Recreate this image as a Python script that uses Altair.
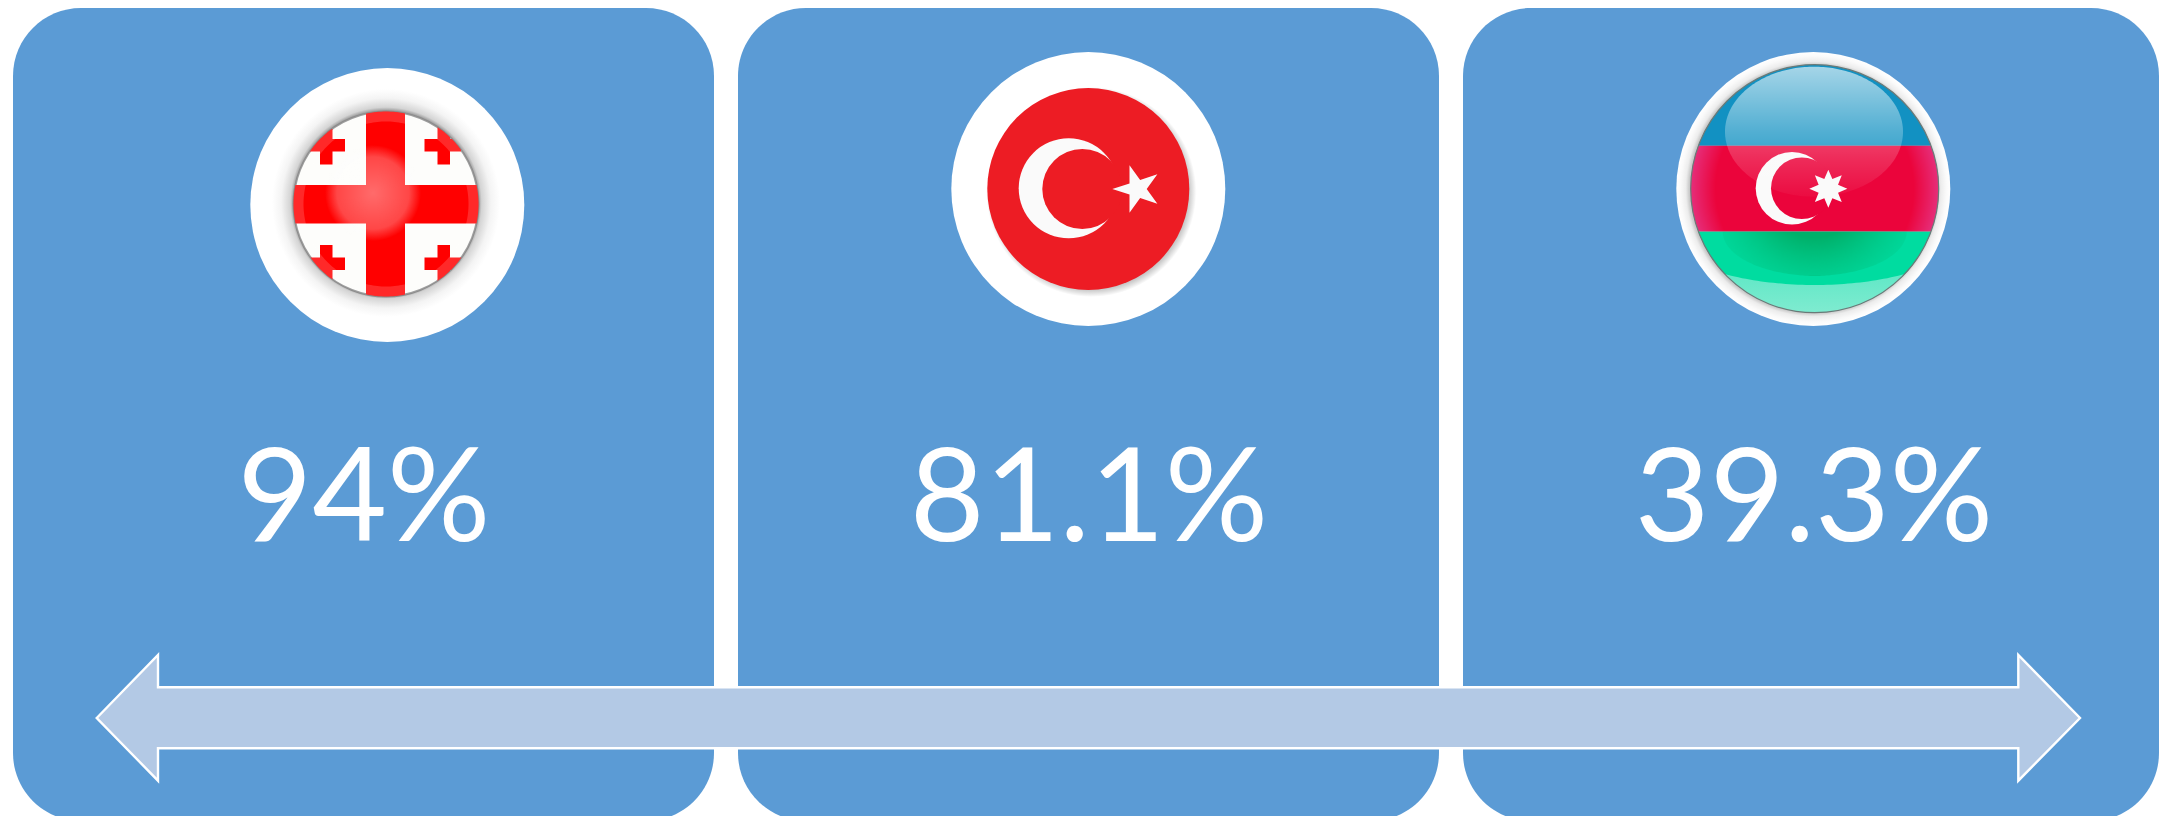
import math
import altair as alt
import pandas as pd

# ---- data ----
countries = ["Georgia", "Turkey", "Azerbaijan"]
values = [94, 81.1, 39.3]
labels = ["94%", "81.1%", "39.3%"]

H = 816
RIGHT = 2159  # last pixel column that fits inside the page margin
PANEL = "#5B9BD5"
X = alt.Scale(domain=[8, RIGHT], nice=False, zero=False)
Y = alt.Scale(domain=[H, 8], nice=False, zero=False)
U = 100.0  # px per path unit
USIZE = (2 * U) ** 2


def enc():
    return dict(x=alt.X("x:Q", scale=X, axis=None), y=alt.Y("y:Q", scale=Y, axis=None))


def sym(shape, cx, cy, fill, size=USIZE, **kw):
    return alt.Chart(pd.DataFrame({"x": [cx], "y": [cy]})).mark_point(
        shape=shape, size=size, filled=True, fill=fill, opacity=1, strokeWidth=kw.pop("strokeWidth", 0), **kw
    ).encode(**enc())


def disk(cx, cy, r, fill, **kw):
    return sym("circle", cx, cy, fill, size=(2 * r) ** 2, **kw)


def ring_pts(cx, cy, rx, ry=None, n=240, rev=False):
    ry = rx if ry is None else ry
    a = [2 * math.pi * i / n for i in range(n)]
    if rev:
        a = a[::-1]
    return [(cx + rx * math.cos(t), cy + ry * math.sin(t)) for t in a]


def clip(poly, keep):
    """Clip a polygon by half-plane: keep(p) returns signed value, >=0 inside."""
    out = []
    for i in range(len(poly)):
        a, b = poly[i], poly[(i + 1) % len(poly)]
        fa, fb = keep(a), keep(b)
        if fa >= 0:
            out.append(a)
        if fa * fb < 0:
            t = fa / (fa - fb)
            out.append((a[0] + t * (b[0] - a[0]), a[1] + t * (b[1] - a[1])))
    return out


def box_clip(poly, x0=None, x1=None, y0=None, y1=None):
    if x0 is not None:
        poly = clip(poly, lambda p: p[0] - x0)
    if x1 is not None:
        poly = clip(poly, lambda p: x1 - p[0])
    if y0 is not None:
        poly = clip(poly, lambda p: p[1] - y0)
    if y1 is not None:
        poly = clip(poly, lambda p: y1 - p[1])
    return poly


def convex_clip(poly, convex):
    """Clip poly to a convex polygon."""
    n = len(convex)
    for i in range(n):
        a, b = convex[i], convex[(i + 1) % n]
        poly = clip(poly, lambda p, a=a, b=b: (b[0] - a[0]) * (p[1] - a[1]) - (b[1] - a[1]) * (p[0] - a[0]))
    return poly


def path(polys, cx, cy):
    s = []
    for poly in polys:
        if not poly:
            continue
        s.append("M" + "L".join(f"{(x - cx) / U:.4f} {(y - cy) / U:.4f}" for x, y in poly) + "Z")
    return "".join(s)


def grad_r(stops, cx=0.5, cy=0.5, r=0.5):
    return {"gradient": "radial", "x1": cx, "y1": cy, "r1": 0, "x2": cx, "y2": cy, "r2": r,
            "stops": [{"offset": o, "color": c} for o, c in stops]}


def grad_v(stops):
    return {"gradient": "linear", "x1": 0, "y1": 0, "x2": 0, "y2": 1,
            "stops": [{"offset": o, "color": c} for o, c in stops]}


def star(cx, cy, R, r, n, start):
    pts = []
    for i in range(2 * n):
        rad = R if i % 2 == 0 else r
        t = start + math.pi * i / n
        pts.append((cx + rad * math.cos(t), cy + rad * math.sin(t)))
    return pts


layers = []

# ---- panels ----
panels = pd.DataFrame({
    "country": countries,
    "x": [13, 738, 1463],
    "x2": [714, 1439, RIGHT],
    "y": [8, 8, 8],
    "y2": [821, 821, 821],
})
layers.append(
    alt.Chart(panels).mark_rect(cornerRadius=68, color=PANEL).encode(
        x=alt.X("x:Q", scale=X, axis=None), x2="x2:Q",
        y=alt.Y("y:Q", scale=Y, axis=None), y2="y2:Q",
    )
)

# ---- Georgia ----
gx, gy, gr = 386.0, 204.0, 92.5
layers.append(disk(387.3, 205, 137, "#FFFFFF"))
layers.append(disk(gx, gy - 1, 114, grad_r([(0, "#8a8a8a"), (0.8, "#8a8a8a"), (0.84, "#d4d4d4"), (0.92, "#f4f4f4"), (1, "#ffffff")])))
layers.append(disk(gx, gy, gr, "#FDFDFB", stroke="#8c8c8c", strokeWidth=2))
circ = ring_pts(gx, gy, gr)
red = []
red.append(box_clip(circ, x0=366, x1=405))
red.append(box_clip(circ, y0=185, y1=223.5))
for vx0, vx1, hx0, hx1, vy0, vy1, hy0, hy1 in [
    (320, 332.5, 309, 345, 129, 164.5, 139, 151.5),
    (437.5, 450, 424.5, 461, 126.5, 164.5, 139, 151.5),
    (320, 332.5, 309, 345, 245, 280, 257.5, 270),
    (437.5, 450, 424.5, 461.5, 245, 282, 257.5, 270),
]:
    red.append(box_clip(circ, x0=vx0, x1=vx1, y0=vy0, y1=vy1))
    red.append(box_clip(circ, x0=hx0, x1=hx1, y0=hy0, y1=hy1))
layers.append(sym(path(red, gx, gy), gx, gy, "#FF0000"))
# glass effects on the red
layers.append(disk(373, 193, 48, grad_r([(0, "rgba(255,255,255,0.42)"), (0.75, "rgba(255,255,255,0.28)"), (1, "rgba(255,255,255,0)")])))
rim = path([ring_pts(gx, gy, gr), ring_pts(gx, gy, gr - 10, rev=True)], gx, gy)
layers.append(sym(rim, gx, gy, "rgba(255,255,255,0.16)"))

# ---- Turkey ----
tx, ty = 1088.3, 189.0
layers.append(disk(tx, ty, 137, "#FFFFFF"))
layers.append(disk(tx + 3, ty + 3, 105, grad_r([(0, "#c8c8c8"), (0.93, "#c8c8c8"), (1, "#ffffff")])))
layers.append(disk(tx, ty, 101, "#ED1C24"))
layers.append(disk(1068.7, 188.3, 50, "#FAFAFA"))
layers.append(disk(1082.3, 189, 40, "#ED1C24"))
layers.append(sym(path([star(1137.2, 189, 24.9, 9.5, 5, math.pi)], 1137.2, 189), 1137.2, 189, "#FAFAFA"))

# ---- Azerbaijan ----
ax, ay = 1813.3, 189.0
fx, fy, fr = 1814.7, 188.7, 124.0
layers.append(disk(ax, ay, 137, grad_r([(0, "#c4c4c4"), (0.905, "#c8c8c8"), (0.93, "#ececec"), (0.97, "#fafafa"), (1, "#ffffff")])))
acirc = ring_pts(fx, fy, fr)
B1, B2 = 145.7, 231.7
layers.append(sym(path([box_clip(acirc, y1=B1)], fx, fy), fx, fy, "#1291C2"))
layers.append(sym(path([box_clip(acirc, y0=B1, y1=B2)], fx, fy), fx, fy,
                  grad_r([(0, "#EB043B"), (0.8, "#EB043B"), (1, "#E62E7A")])))
green = box_clip(acirc, y0=B2)
layers.append(sym(path([green], fx, fy), fx, fy, grad_v([(0, "#40E4BC"), (1, "#7FEBD0")])))
# main green above the lighter bottom crescent
ell = ring_pts(fx, 222, 160, 63)
layers.append(sym(path([convex_clip(green, ell)], fx, fy), fx, fy, "#00DCA0"))
# dark centre of green band
glow = box_clip(ring_pts(fx, 231.7, 92, 44), y0=B2)
layers.append(sym(path([glow], fx, fy), fx, fy,
                  grad_r([(0, "#00AC66"), (0.35, "#00B06A"), (1, "rgba(0,220,160,0)")], cy=0.15, r=0.75)))
# crescent and eight-pointed star, then the glass highlight over the upper part
ccx, ccy = 1792.0, 188.3
icx, icr = 1801.8, 30.8
layers.append(disk(ccx, ccy, 36.3, "#FAFAFA"))
layers.append(disk(icx, ccy, icr, "#EB043B"))
hl = ring_pts(1814, 131.7, 89, 65)
layers.append(sym(path([hl], fx, fy), fx, fy,
                  grad_v([(0, "rgba(255,255,255,0.62)"), (0.5, "rgba(255,255,255,0.27)"), (0.7, "rgba(255,255,255,0.16)"), (1, "rgba(255,255,255,0.03)")])))
layers.append(disk(fx, fy, fr, "rgba(0,0,0,0)", stroke="#6a7a78", strokeWidth=1.2))
sx, sy = 1665 + 490 / 3, 40 + 446 / 3
layers.append(sym(path([star(sx, sy, 19, 10.5, 8, -math.pi / 2)], sx, sy), sx, sy, "#FAFAFA"))

# ---- percentage text ----
texts = pd.DataFrame({"country": countries, "value": values, "label": labels,
                      "x": [364, 1089, 1814], "y": [541, 541, 541]})
layers.append(
    alt.Chart(texts).mark_text(font="Lato", fontSize=129, color="#FFFFFF", align="center", baseline="alphabetic").encode(
        x=alt.X("x:Q", scale=X, axis=None), y=alt.Y("y:Q", scale=Y, axis=None), text="label:N"
    )
)

# ---- double arrow ----
acx, acy = 1088.0, 718.0
arrow = [(96.7, 718), (158, 655), (158, 687.3), (2018.3, 687.3), (2018.3, 655), (2080, 718),
         (2018.3, 780.7), (2018.3, 748.3), (158, 748.3), (158, 780.7)]
layers.append(sym(path([arrow], acx, acy), acx, acy, "#B3C9E5", stroke="#FFFFFF", strokeWidth=2.4))

chart = alt.layer(*layers).properties(
    width=RIGHT - 8, height=H - 8, padding=0, autosize=alt.AutoSizeParams(type="none"), background="#FFFFFF"
).configure_view(stroke=None)

chart.save("out.html", embed_options={"renderer": "svg", "actions": False})
